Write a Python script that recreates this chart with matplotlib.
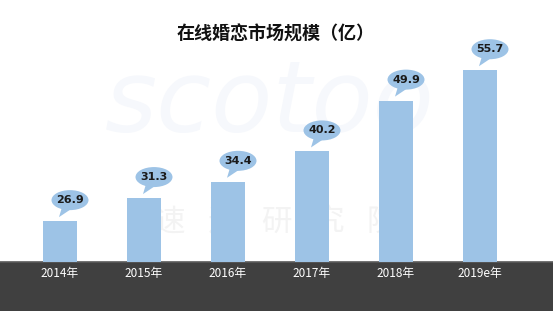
import matplotlib
matplotlib.use("Agg")
import matplotlib.pyplot as plt
import matplotlib.patches as mpatches
import matplotlib.transforms as mtransforms

plt.rcParams['font.family'] = ['Noto Sans CJK SC', 'DejaVu Sans']

categories = ["2014年", "2015年", "2016年", "2017年", "2018年", "2019e年"]
values = [26.9, 31.3, 34.4, 40.2, 49.9, 55.7]
title = "在线婚恋市场规模（亿）"

W, H = 553, 311
fig = plt.figure(figsize=(W / 100, H / 100), dpi=100)
fig.patch.set_facecolor("white")

# dark band at bottom
band_h = 49 / H
fig.patches.append(mpatches.Rectangle((0, 0), 1, band_h, transform=fig.transFigure,
                                      facecolor="#404040", edgecolor="none", zorder=-5))

ax = fig.add_axes([18 / W, band_h, 504 / W, 1 - band_h])
ax.set_facecolor("none")
ymin = 19.1
ax.set_xlim(-0.5, len(values) - 0.5)
ax.set_ylim(ymin, ymin + 262 / 5.24)

# faint watermark
ax.text(0.5, 0.60, "scotoo", transform=ax.transAxes, ha="center", va="center",
        fontsize=72, color="#f6f8fc", style="italic", zorder=1, family="DejaVu Sans")
for k, ch in enumerate("速途研究院"):
    ax.text((170 + 53 * k) / W, 1 - 222 / H, ch, transform=fig.transFigure,
            ha="center", va="center", fontsize=22, color="#f3f3f3", zorder=1)

x = list(range(len(values)))
ax.bar(x, [v - ymin for v in values], bottom=ymin, width=0.405, color="#9DC3E6",
       edgecolor="none", zorder=2)

bubble_c = "#9DC3E6"
for i, v in zip(x, values):
    tr = mtransforms.ScaledTranslation(i, v, ax.transData)
    ell = mpatches.Ellipse((10, 21), 37, 20, transform=tr, facecolor=bubble_c,
                           edgecolor="none", zorder=3)
    tail = mpatches.Polygon([(2, 14), (11, 12), (-1, 4)], closed=True, transform=tr,
                            facecolor=bubble_c, edgecolor="none", zorder=3)
    ax.add_patch(ell)
    ax.add_patch(tail)
    ax.text(10, 21, f"{v:.1f}", transform=tr, ha="center", va="center",
            fontsize=8, fontweight="bold", color="#1a1a1a", zorder=4,
            family="DejaVu Sans")

ax.set_xticks(x)
ax.set_xticklabels(categories, color="white", fontsize=8.5)
ax.tick_params(axis="x", length=0, pad=3.5)
ax.set_yticks([])
for s in ["top", "left", "right"]:
    ax.spines[s].set_visible(False)
ax.spines["bottom"].set_visible(False)
fig.lines.append(plt.Line2D([0, 1], [band_h, band_h], transform=fig.transFigure,
                            color="#5a5a5a", linewidth=1.2, zorder=-4))

fig.text(276 / W, 1 - 34 / H, title, ha="center", va="center", fontsize=13,
         fontweight="bold", color="#111111")

fig.savefig("out.png", dpi=100)
